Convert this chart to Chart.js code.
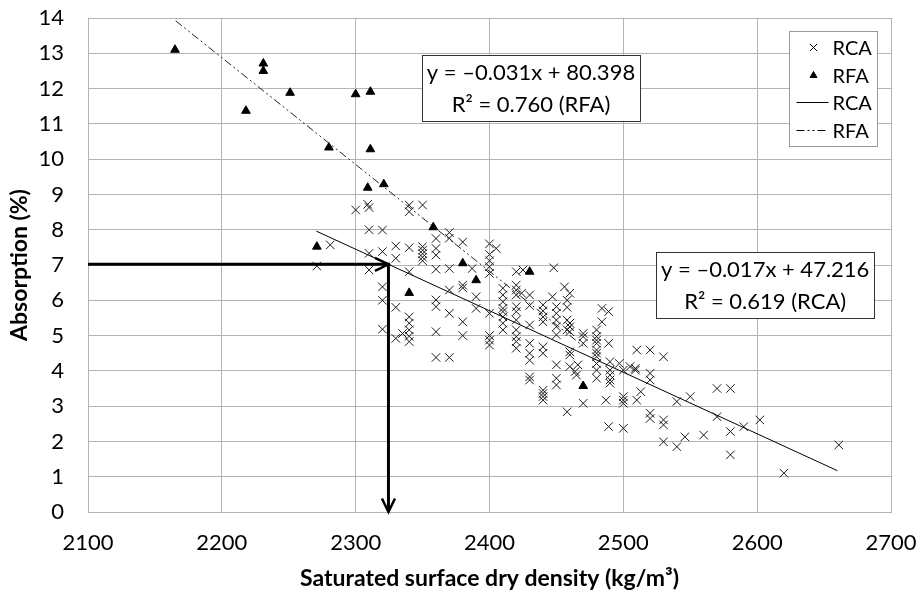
<!DOCTYPE html>
<html>
<head>
<meta charset="utf-8">
<script src="https://cdn.jsdelivr.net/npm/chart.js@4.4.1/dist/chart.umd.min.js"></script>
<style>
	html, body { margin: 0; padding: 0; background: #fff; }
	#wrap { width: 920px; height: 596px; }
</style>
</head>
<body>
<div id="wrap"><canvas id="myChart"></canvas></div>
<script>
'use strict';

// RCA samples: density (kg/m3) and absorption (%)
const rcaDensity = [
	2271, 2281, 2300, 2309, 2310, 2310, 2310, 2310, 2320, 2320, 2320, 2320, 2320,
	2330, 2330, 2330, 2330, 2335, 2340, 2340, 2340, 2340, 2340, 2340, 2340, 2340, 2340,
	2350, 2350, 2350, 2350, 2350, 2350, 2360, 2360, 2360, 2360, 2360, 2360, 2360, 2360,
	2370, 2370, 2370, 2370, 2370, 2370, 2380, 2380, 2380, 2380, 2380, 2387, 2390, 2390,
	2400, 2405, 2400, 2400, 2400, 2400, 2400, 2400, 2400, 2400,
	2410, 2410, 2410, 2410, 2410, 2410, 2410, 2410,
	2420, 2425, 2420, 2420, 2420, 2420, 2420, 2420, 2420, 2420, 2420, 2420, 2424,
	2430, 2430, 2430, 2430, 2430, 2430, 2430, 2430,
	2440, 2440, 2440, 2440, 2440, 2440, 2440, 2440, 2440, 2440, 2447, 2448,
	2450, 2450, 2450, 2450, 2450, 2450, 2450, 2450, 2456, 2458, 2458, 2458, 2458, 2458,
	2460, 2460, 2460, 2460, 2460, 2460, 2460, 2464, 2465, 2466, 2470, 2470, 2470, 2470,
	2480, 2480, 2480, 2480, 2480, 2480, 2480, 2480, 2480, 2480, 2484, 2489, 2484, 2489,
	2490, 2490, 2490, 2490, 2490, 2487, 2489, 2497, 2500, 2500, 2500, 2500, 2500,
	2505, 2509, 2509, 2510, 2510, 2513, 2520, 2520, 2520, 2520, 2520,
	2530, 2530, 2530, 2530, 2540, 2540, 2546, 2550, 2560, 2570, 2570,
	2580, 2580, 2580, 2590, 2602, 2620, 2661
];
const rcaAbsorption = [
	6.97, 7.57, 8.56, 8.72, 8.63, 8.00, 7.33, 6.86, 7.99, 7.38, 6.38, 6.00, 5.18,
	7.54, 7.19, 5.80, 4.92, 5.06, 8.70, 8.51, 7.49, 6.81, 5.53, 5.35, 5.16, 4.98, 4.83,
	8.70, 7.52, 7.42, 7.32, 7.22, 7.12, 7.75, 7.47, 7.28, 6.88, 6.01, 5.82, 5.11, 4.38,
	7.92, 7.76, 6.90, 6.29, 5.63, 4.38, 7.65, 6.43, 6.35, 5.39, 5.00, 6.90, 6.10, 5.77,
	7.60, 7.47, 7.30, 7.12, 6.95, 6.76, 5.63, 5.00, 4.87, 4.73,
	6.34, 6.15, 5.96, 5.77, 5.68, 5.53, 5.35, 5.16,
	6.81, 6.86, 6.43, 6.29, 6.15, 5.82, 5.68, 5.44, 5.16, 4.97, 4.83, 4.64, 6.20,
	6.15, 5.85, 5.30, 4.78, 4.50, 4.30, 3.83, 3.74,
	5.87, 5.70, 5.53, 5.39, 4.68, 4.50, 3.45, 3.36, 3.27, 3.17, 6.10, 6.92,
	5.82, 5.63, 5.44, 5.25, 5.02, 4.17, 3.79, 3.60, 6.38, 6.00, 5.80, 5.44, 5.16, 2.84,
	6.20, 5.35, 5.25, 5.11, 4.54, 4.45, 4.12, 3.98, 3.88, 4.17, 5.06, 4.97, 4.78, 3.08,
	5.16, 4.97, 4.87, 4.78, 4.59, 4.50, 4.40, 4.21, 4.02, 3.79, 5.77, 5.68, 5.39, 4.78,
	4.26, 4.02, 3.88, 3.74, 3.65, 3.17, 2.42, 4.21, 4.02, 3.27, 3.17, 3.08, 2.37,
	4.12, 4.07, 4.02, 4.59, 3.17, 3.41, 4.59, 3.93, 3.74, 2.80, 2.65,
	4.40, 2.61, 2.47, 1.99, 3.13, 1.85, 2.13, 3.27, 2.18, 3.50, 2.70,
	3.50, 2.28, 1.62, 2.42, 2.61, 1.10, 1.90
];

// RFA samples
const rfaDensity = [2165, 2218, 2231, 2231, 2251, 2300, 2311, 2280, 2311, 2309, 2321, 2271, 2358, 2380, 2390, 2340, 2430, 2470];
const rfaAbsorption = [13.10, 11.37, 12.71, 12.50, 11.88, 11.84, 11.91, 10.33, 10.28, 9.19, 9.29, 7.52, 8.07, 7.05, 6.57, 6.21, 6.81, 3.57];

// linear trend lines, end points
const rcaTrendX = [2270.6, 2660];
const rcaTrendY = [7.96, 1.17];
const rfaTrendX = [2165.5, 2470];
const rfaTrendY = [13.92, 4.70];

// reading arrow: from the axis to the line, then down
const arrowX = [2100, 2324.5, 2324.5];
const arrowY = [7.02, 7.02, 0];

const xTickValues = [2100, 2200, 2300, 2400, 2500, 2600, 2700];
const yTickValues = [0, 1, 2, 3, 4, 5, 6, 7, 8, 9, 10, 11, 12, 13, 14];

const equations = [
	{ lines: ['y = \u20130.031x + 80.398', 'R\u00B2 = 0.760 (RFA)'], x: 2431, y: 12.02 },
	{ lines: ['y = \u20130.017x + 47.216', 'R\u00B2 = 0.619 (RCA)'], x: 2606, y: 6.43 }
];

const FONT = 'Lato, "Open Sans", sans-serif';
const GRID = '#b4b4b4';

function toPoints(xs, ys) {
	return xs.map((v, i) => ({ x: v, y: ys[i] }));
}

const extras = {
	id: 'extras',
	afterDatasetsDraw(chart) {
		const { ctx, scales: { x, y } } = chart;
		ctx.save();
		ctx.strokeStyle = '#000';
		ctx.lineWidth = 2.5;
		for (let i = 1; i < arrowX.length; i++) {
			const x0 = x.getPixelForValue(arrowX[i - 1]), y0 = y.getPixelForValue(arrowY[i - 1]);
			const x1 = x.getPixelForValue(arrowX[i]), y1 = y.getPixelForValue(arrowY[i]);
			const a = Math.atan2(y1 - y0, x1 - x0);
			ctx.beginPath();
			ctx.moveTo(x1 - 15 * Math.cos(a - 0.45), y1 - 15 * Math.sin(a - 0.45));
			ctx.lineTo(x1, y1);
			ctx.lineTo(x1 - 15 * Math.cos(a + 0.45), y1 - 15 * Math.sin(a + 0.45));
			ctx.stroke();
		}
		ctx.restore();
	},
	afterDraw(chart) {
		const { ctx, chartArea, scales: { x, y } } = chart;
		ctx.save();

		// equation boxes
		ctx.font = '22px ' + FONT;
		ctx.textAlign = 'center';
		ctx.textBaseline = 'middle';
		equations.forEach(eq => {
			const cx = x.getPixelForValue(eq.x);
			const cy = y.getPixelForValue(eq.y);
			const w = 218, h = 66;
			ctx.fillStyle = '#fff';
			ctx.fillRect(cx - w / 2, cy - h / 2, w, h);
			ctx.strokeStyle = '#333';
			ctx.lineWidth = 1;
			ctx.strokeRect(Math.round(cx - w / 2) + 0.5, Math.round(cy - h / 2) + 0.5, w, h);
			ctx.fillStyle = '#000';
			ctx.fillText(eq.lines[0], cx, cy - 15);
			ctx.fillText(eq.lines[1], cx, cy + 17);
		});

		// legend
		const lw = 88, lh = 115;
		const lx = Math.round(chartArea.right - 14 - lw) + 0.5;
		const ly = Math.round(chartArea.top + 13) + 0.5;
		ctx.fillStyle = '#fff';
		ctx.fillRect(lx, ly, lw, lh);
		ctx.strokeStyle = '#999';
		ctx.lineWidth = 1;
		ctx.strokeRect(lx, ly, lw, lh);
		ctx.font = '20px ' + FONT;
		ctx.textAlign = 'left';
		ctx.textBaseline = 'middle';
		const rows = [16, 44, 71, 99];
		chart.data.datasets.slice(0, 4).forEach((ds, i) => {
			const ry = ly + rows[i];
			ctx.strokeStyle = '#000';
			ctx.fillStyle = '#000';
			if (ds.showLine) {
				ctx.lineWidth = 1;
				ctx.setLineDash(ds.borderDash || []);
				ctx.beginPath();
				ctx.moveTo(lx + 7, ry);
				ctx.lineTo(lx + 39, ry);
				ctx.stroke();
				ctx.setLineDash([]);
			} else {
				ctx.lineWidth = 1;
				Chart.helpers.drawPoint(ctx, {
					pointStyle: ds.pointStyle,
					radius: ds.pointRadius - 1,
					rotation: 0,
					borderWidth: 1
				}, lx + 24, ry);
			}
			ctx.fillStyle = '#000';
			ctx.fillText(ds.label, lx + 43, ry + 1);
		});
		ctx.restore();
	}
};

new Chart(document.getElementById('myChart'), {
	type: 'scatter',
	data: {
		datasets: [
			{
				label: 'RCA',
				data: toPoints(rcaDensity, rcaAbsorption),
				pointStyle: 'crossRot',
				pointRadius: 6,
				borderColor: '#1a1a1a',
				borderWidth: 1,
				order: 5
			},
			{
				label: 'RFA',
				data: toPoints(rfaDensity, rfaAbsorption),
				pointStyle: 'triangle',
				pointRadius: 5,
				backgroundColor: '#000',
				borderColor: '#000',
				borderWidth: 1,
				order: 4
			},
			{
				label: 'RCA',
				data: toPoints(rcaTrendX, rcaTrendY),
				showLine: true,
				pointRadius: 0,
				borderColor: '#000',
				borderWidth: 1,
				order: 3
			},
			{
				label: 'RFA',
				data: toPoints(rfaTrendX, rfaTrendY),
				showLine: true,
				pointRadius: 0,
				borderColor: '#222',
				borderWidth: 1,
				borderDash: [8, 3, 2, 3, 2, 3],
				order: 2
			},
			{
				label: 'arrow',
				data: toPoints(arrowX, arrowY),
				showLine: true,
				pointRadius: 0,
				borderColor: '#000',
				borderWidth: 3,
				order: 1
			}
		]
	},
	options: {
		responsive: true,
		maintainAspectRatio: false,
		animation: false,
		layout: { padding: { top: 18, right: 29, left: 0, bottom: 0 } },
		plugins: {
			legend: { display: false },
			tooltip: { enabled: false }
		},
		scales: {
			x: {
				type: 'linear',
				min: 2100,
				max: 2700,
				afterBuildTicks: s => { s.ticks = xTickValues.map(v => ({ value: v })); },
				afterFit: s => { s.height = 84; s.paddingLeft = 0; s.paddingRight = 0; },
				ticks: {
					color: '#000',
					font: { family: FONT, size: 22 },
					padding: 18,
					maxRotation: 0,
					callback: v => String(v)
				},
				grid: { color: GRID, lineWidth: 1, drawTicks: false },
				border: { color: GRID },
				title: {
					display: true,
					text: 'Saturated surface dry density (kg/m\u00B3)',
					color: '#000',
					font: { family: FONT, size: 23, weight: 'bold' },
					padding: { top: 2 }
				}
			},
			y: {
				min: 0,
				max: 14,
				afterBuildTicks: s => { s.ticks = yTickValues.map(v => ({ value: v })); },
				afterFit: s => { s.width = 88; s.paddingTop = 0; s.paddingBottom = 0; },
				ticks: {
					color: '#000',
					font: { family: FONT, size: 22 },
					padding: 24,
					callback: v => String(v)
				},
				grid: { color: GRID, lineWidth: 1, drawTicks: false },
				border: { color: GRID },
				title: {
					display: true,
					text: 'Absorption (%)',
					color: '#000',
					font: { family: FONT, size: 23, weight: 'bold' },
					padding: { top: 6, bottom: 0 }
				}
			}
		}
	},
	plugins: [extras]
});
</script>
</body>
</html>
